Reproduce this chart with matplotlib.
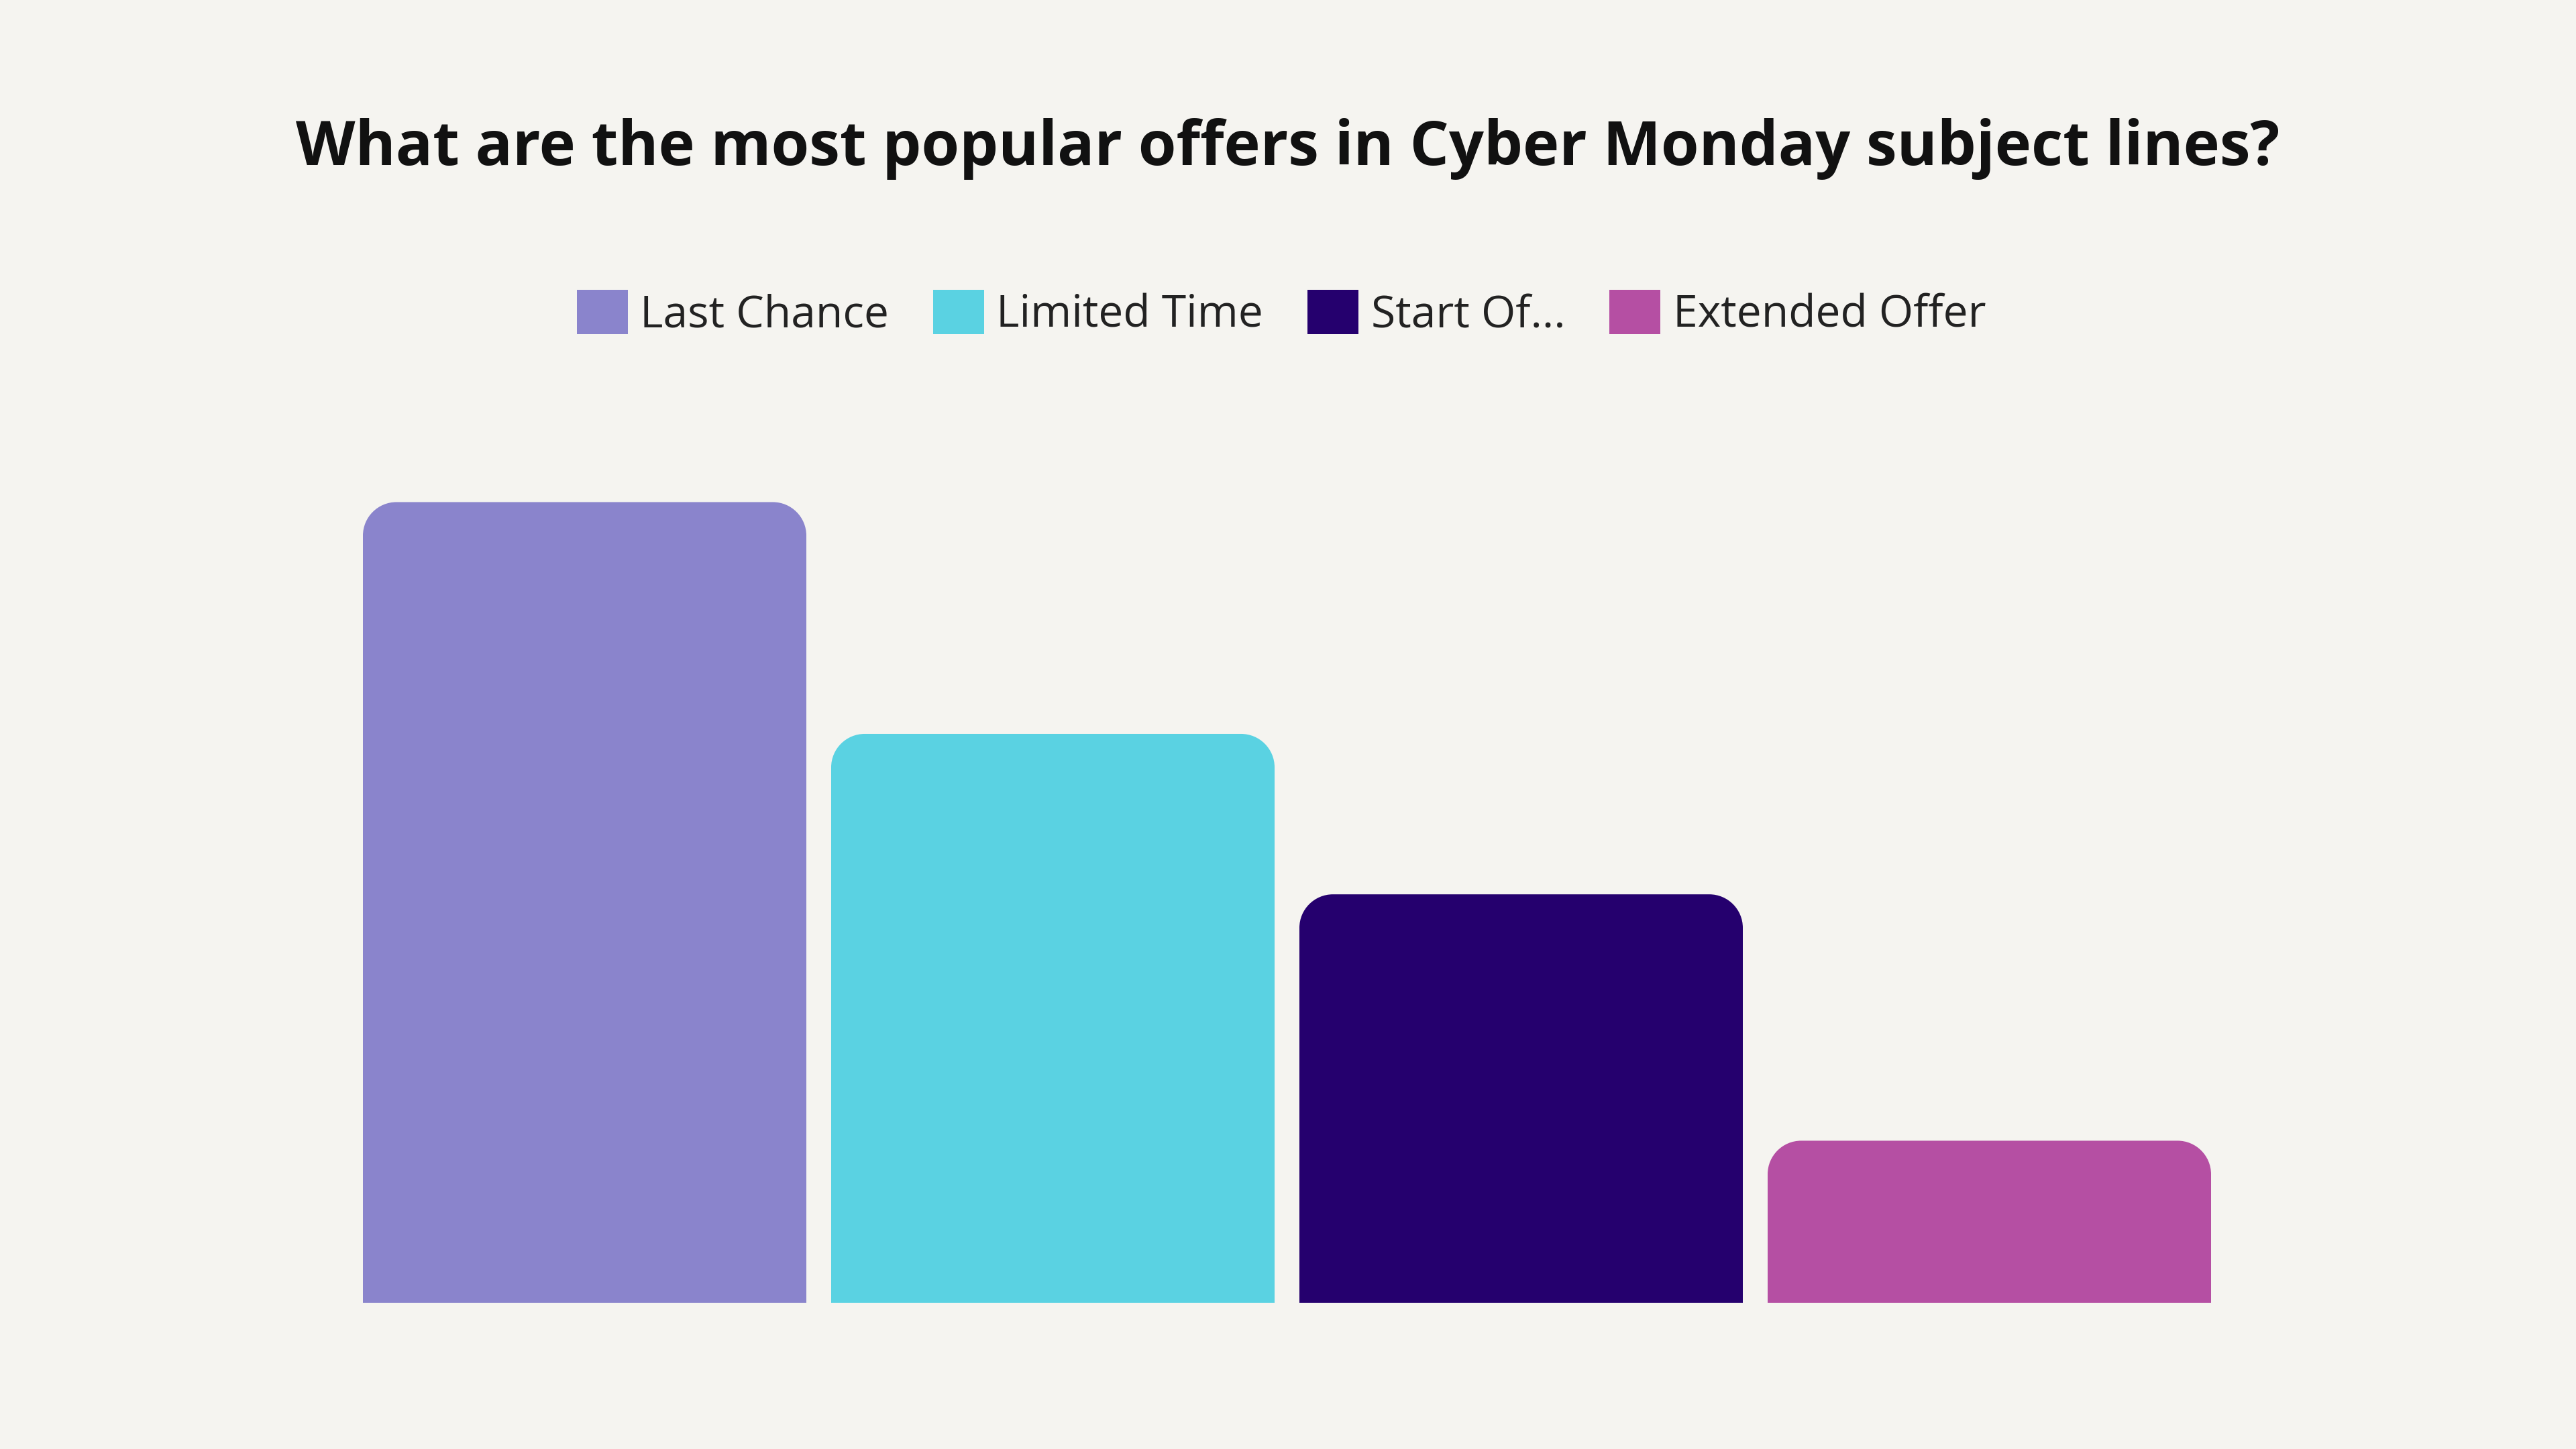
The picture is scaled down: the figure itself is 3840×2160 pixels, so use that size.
import matplotlib
matplotlib.use("Agg")
import matplotlib.pyplot as plt
from matplotlib.patches import Patch, PathPatch
from matplotlib.path import Path

categories = ["Last Chance", "Limited Time", "Start Of...", "Extended Offer"]
values = [49.4, 35.1, 25.2, 10]
colors = ["#8A84CC", "#5AD2E2", "#25006E", "#B54FA3"]
title = "What are the most popular offers in Cyber Monday subject lines?"

BG = "#F5F4F0"
plt.rcParams['font.family'] = ['Open Sans', 'DejaVu Sans']

fig = plt.figure(figsize=(38.4, 21.6), dpi=100, facecolor=BG)
ax = fig.add_axes([541/3840, 0.1009, (3296-541)/3840, 0.5593])
ax.set_facecolor(BG)

width = 0.947
xs = list(range(len(categories)))
bars = ax.bar(xs, values, width=width, color=colors)
ax.set_xlim(-width/2, len(categories) - 1 + width/2)
ax.set_ylim(0, 50)
for s in ax.spines.values():
    s.set_visible(False)
ax.set_xticks([]); ax.set_yticks([])

# replace bars with top-rounded shapes
fig.canvas.draw()
r_px = 50
ppx = ax.transData.transform((1, 0))[0] - ax.transData.transform((0, 0))[0]
ppy = ax.transData.transform((0, 1))[1] - ax.transData.transform((0, 0))[1]
rx, ry = r_px / ppx, r_px / ppy
k = 0.5523
for b in bars:
    x0, w, h = b.get_x(), b.get_width(), b.get_height()
    x1 = x0 + w
    verts = [
        (x0, 0), (x0, h - ry),
        (x0, h - ry + k*ry), (x0 + rx - k*rx, h), (x0 + rx, h),
        (x1 - rx, h),
        (x1 - rx + k*rx, h), (x1, h - ry + k*ry), (x1, h - ry),
        (x1, 0), (x0, 0)]
    codes = [Path.MOVETO, Path.LINETO,
             Path.CURVE4, Path.CURVE4, Path.CURVE4,
             Path.LINETO,
             Path.CURVE4, Path.CURVE4, Path.CURVE4,
             Path.LINETO, Path.CLOSEPOLY]
    ax.add_patch(PathPatch(Path(verts, codes), facecolor=b.get_facecolor(),
                           edgecolor='none'))
    b.set_visible(False)

fig.text(0.5, 1 - 222/2160, title, ha='center', va='center',
         fontsize=66, fontweight='bold', color='#111111')

handles = [Patch(facecolor=c, edgecolor='none') for c in colors]
fig.legend(handles, categories, loc='center', bbox_to_anchor=(1910/3840, 1 - 468/2160),
           ncol=4, frameon=False, fontsize=47.5, handlelength=1.15, handleheight=1.15,
           handletextpad=0.28, columnspacing=1.0, labelcolor='#222222')

fig.savefig("out.png", dpi=100, facecolor=BG)
